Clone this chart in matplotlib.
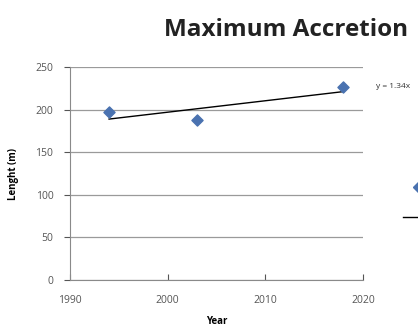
import matplotlib as mpl
mpl.use("Agg")
import matplotlib.pyplot as plt
import numpy as np

# survey years and measured accretion length
years = [1994, 2003, 2018]
lengths = [197, 188, 226]

x_ticks = [1990, 2000, 2010, 2020]
y_ticks = [0, 50, 100, 150, 200, 250]

plt.rcParams['font.family'] = ['Open Sans', 'DejaVu Sans']

fig = plt.figure(figsize=(4.18, 3.34), dpi=100)
ax = fig.add_axes([70 / 418, 1 - 280 / 334, 293 / 418, 213 / 334])

# linear trend over the survey points
slope, icpt = np.polyfit(years, lengths, 1)
trend_x = np.array([min(years), max(years)])
ax.plot(trend_x, slope * trend_x + icpt, color="black", lw=1, zorder=3)
ax.scatter(years, lengths, s=32, marker="D", color="#4a72b0", zorder=4)

ax.set_xlim(1990, 2020)
ax.set_ylim(0, 250)
ax.set_xticks(x_ticks)
ax.set_yticks(y_ticks)
ax.grid(axis="y", color="#9a9a9a", lw=0.9)
ax.set_axisbelow(True)
for s in ["top", "right"]:
    ax.spines[s].set_visible(False)
for s in ["left", "bottom"]:
    ax.spines[s].set_color("#8a8a8a")
ax.tick_params(axis="both", labelsize=7.5, colors="#555555", length=4)
ax.tick_params(axis="y", pad=8)
ax.tick_params(axis="x", direction="in", pad=11)
ax.set_xlabel("Year", fontsize=7, fontweight="bold", labelpad=7)
ax.set_ylabel("Lenght (m)", fontsize=7, fontweight="bold", labelpad=12)

fig.text(0.685, 0.91, "Maximum Accretion", fontsize=17.5, fontweight="bold",
         ha="center", va="center", color="#222222")

# trendline equation and legend, running off the right edge
fig.text(376 / 418, 1 - 87 / 334, "y = 1.34x", fontsize=6, color="#333333",
         va="center")
fig.add_artist(plt.Line2D([418 / 418, 428 / 418], [1 - 187 / 334] * 2,
                          marker="D", color="#4a72b0", ms=5, lw=0))
fig.add_artist(plt.Line2D([403 / 418, 430 / 418], [1 - 217 / 334] * 2,
                          color="black", lw=1))

fig.savefig("out.png", dpi=100)
